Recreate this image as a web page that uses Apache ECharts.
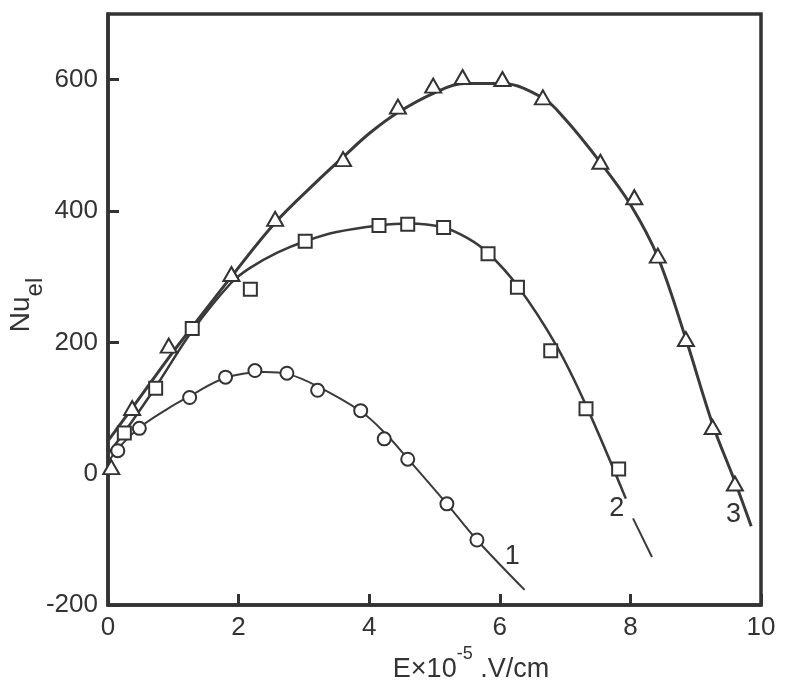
<!DOCTYPE html>
<html>
<head>
<meta charset="utf-8">
<script src="https://cdn.jsdelivr.net/npm/echarts@6/dist/echarts.min.js"></script>
<style>
html,body{margin:0;padding:0;background:#ffffff;}
#chart{width:810px;height:684px;}
</style>
</head>
<body>
<div id="chart"></div>
<script>
// ---- data (x: E×10^-5 V/cm, y: Nu_el) ----
const yTickValues = [-200, 0, 200, 400, 600];
const xTickValues = [0, 2, 4, 6, 8, 10];

// measured points
const circlePts = [[0.15,35],[0.48,69],[1.25,116],[1.8,147],[2.25,157],[2.74,153],[3.21,127],[3.87,96],[4.23,53],[4.59,22],[5.19,-46],[5.65,-101]];
const squarePts = [[0.25,62],[0.73,130],[1.29,221],[2.18,281],[3.02,354],[4.15,378],[4.59,380],[5.14,375],[5.82,335],[6.27,284],[6.78,187],[7.32,99],[7.82,7]];
const trianglePts = [[0.05,10],[0.37,100],[0.93,195],[1.89,304],[2.56,388],[3.6,479],[4.44,559],[4.98,591],[5.43,604],[6.04,601],[6.66,573],[7.54,475],[8.06,421],[8.42,332],[8.85,205],[9.26,71],[9.6,-15]];

// fitted curves
const curve1 = [[0.02,20],[0.15,38],[0.48,70],[0.9,98],[1.25,118],[1.8,146],[2.4,155],[2.75,152],[3.21,133],[3.87,95],[4.23,63],[4.59,23],[5.19,-46],[5.65,-101],[6.38,-177]];
const curve2 = [[0,30],[0.25,63],[0.73,132],[1.28,216],[1.88,290],[2.17,313],[2.6,337],[3.02,354],[3.5,368],[4.15,378],[4.6,381],[5.14,375],[5.5,359],[5.82,336],[6.27,286],[6.86,196],[7.32,104],[7.93,-38]];
const curve2Dash = [[8.04,-68],[8.33,-127]];
const curve3 = [[0,50],[0.37,100],[0.94,178],[1.28,222],[1.89,300],[2.56,382],[3.2,445],[3.6,482],[4.0,518],[4.44,550],[5.0,580],[5.45,594],[6.04,594],[6.66,572],[7.0,540],[7.54,474],[8.0,410],[8.42,330],[8.85,205],[9.26,75],[9.6,-12],[9.85,-80]];

// curve number labels
const curveLabelNames = ['1', '2', '3'];
const curveLabelPos = [[6.19,-126],[7.79,-53],[9.58,-62]];

const FONT = 'Liberation Sans, Arial, sans-serif';
const INK = '#333333';
const X_MIN = 0, X_MAX = 10, Y_MIN = -200, Y_MAX = 700;
const TICK_DY = 16;    // inward tick length along y (data units)
const TICK_DX = 0.16;  // inward tick length along x (data units)

// inward tick marks built from the tick arrays
const tickMarks = [
  ...xTickValues.filter(v => v > X_MIN && v < X_MAX).map(v => [{coord: [v, Y_MIN]}, {coord: [v, Y_MIN + TICK_DY]}]),
  ...yTickValues.filter(v => v > Y_MIN && v < Y_MAX).map(v => [{coord: [X_MIN, v]}, {coord: [X_MIN + TICK_DX, v]}])
];

const chart = echarts.init(document.getElementById('chart'), null, {renderer: 'canvas'});

const markerStyle = {color: '#ffffff', borderColor: INK, borderWidth: 2, opacity: 1};

const option = {
  animation: false,
  grid: {left: 108, right: 49, top: 14, bottom: 79, show: true, borderColor: INK, borderWidth: 3.5},
  xAxis: {
    type: 'value', min: X_MIN, max: X_MAX, interval: 2,
    axisLine: {show: true, onZero: false, lineStyle: {color: INK, width: 3.5}},
    axisTick: {show: true, inside: true, length: 11, lineStyle: {color: INK, width: 3}},
    splitLine: {show: false},
    axisLabel: {color: INK, fontSize: 26, fontFamily: FONT, margin: 10}
  },
  yAxis: {
    type: 'value', min: Y_MIN, max: Y_MAX, interval: 200,
    axisLine: {show: true, onZero: false, lineStyle: {color: INK, width: 3.5}},
    axisTick: {show: true, inside: true, length: 11, lineStyle: {color: INK, width: 3}},
    splitLine: {show: false},
    axisLabel: {color: INK, fontSize: 26, fontFamily: FONT, margin: 10, showMaxLabel: false}
  },
  graphic: [
    {
      type: 'text', x: 471, y: 664, z: 100,
      style: {
        text: '{m|E×10}{s|-5}{m| .V/cm}',
        align: 'center', verticalAlign: 'middle',
        rich: {
          m: {fontSize: 27, fontFamily: FONT, fill: INK, verticalAlign: 'bottom', lineHeight: 38},
          s: {fontSize: 18, fontFamily: FONT, fill: INK, verticalAlign: 'top', lineHeight: 18}
        }
      }
    },
    {
      type: 'text', x: 27, y: 305, rotation: Math.PI / 2, z: 100,
      style: {
        text: '{m|Nu}{s|el}',
        align: 'center', verticalAlign: 'middle',
        rich: {
          m: {fontSize: 28, fontFamily: FONT, fill: INK, verticalAlign: 'top', lineHeight: 40},
          s: {fontSize: 24, fontFamily: FONT, fill: INK, verticalAlign: 'bottom', lineHeight: 22}
        }
      }
    }
  ],
  series: [
    {type: 'line', data: curve3, smooth: 0.35, showSymbol: false, lineStyle: {color: '#3a3a3a', width: 3}, z: 2, silent: true},
    {type: 'line', data: curve2, smooth: 0.35, showSymbol: false, lineStyle: {color: '#3a3a3a', width: 2.5}, z: 2, silent: true},
    {type: 'line', data: curve2Dash, smooth: false, showSymbol: false, lineStyle: {color: '#3a3a3a', width: 2}, z: 2, silent: true},
    {type: 'line', data: curve1, smooth: 0.35, showSymbol: false, lineStyle: {color: '#3a3a3a', width: 2}, z: 2, silent: true,
      markLine: {silent: true, symbol: ['none', 'none'], label: {show: false}, animation: false,
        lineStyle: {color: INK, width: 3, type: 'solid'}, emphasis: {disabled: true}, data: tickMarks}},
    {type: 'scatter', data: trianglePts, symbol: 'triangle', symbolSize: [16, 14], itemStyle: markerStyle, z: 5, clip: false},
    {type: 'scatter', data: squarePts, symbol: 'rect', symbolSize: 13, itemStyle: markerStyle, z: 5, clip: false},
    {type: 'scatter', data: circlePts, symbol: 'circle', symbolSize: 13, itemStyle: markerStyle, z: 5, clip: false},
    {
      type: 'scatter', symbol: 'circle', symbolSize: 0.1, itemStyle: {color: INK, opacity: 1}, z: 6, silent: true,
      data: curveLabelNames.map((n, i) => ({name: n, value: curveLabelPos[i]})),
      label: {show: true, position: 'inside', formatter: '{b}', color: INK, opacity: 1, fontSize: 27, fontFamily: FONT}
    }
  ]
};
chart.setOption(option);
</script>
</body>
</html>
